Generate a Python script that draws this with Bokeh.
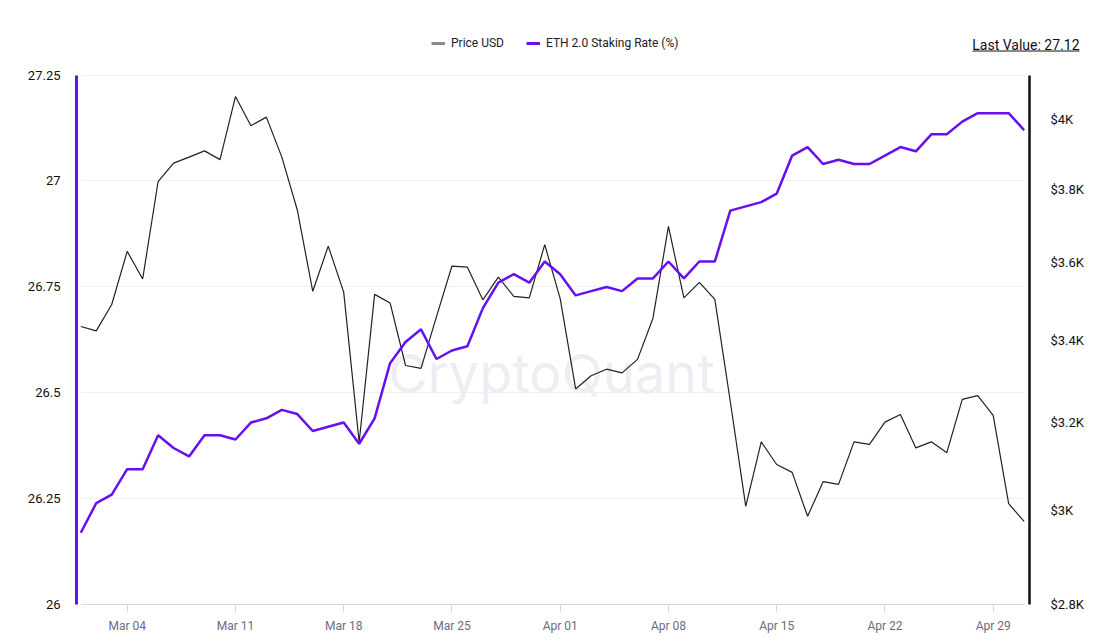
import math
import datetime as dt
from bokeh.plotting import figure
from bokeh.models import (Range1d, LogAxis, LogScale, FixedTicker, CustomJSTickFormatter,
                          NumeralTickFormatter, DatetimeTickFormatter, Legend, LegendItem,
                          Label, BoxAnnotation)
from bokeh.embed import file_html
from bokeh.resources import INLINE

# ---------------- data ----------------
start_date = dt.datetime(2024, 3, 1)
dates = [start_date + dt.timedelta(days=i) for i in range(62)]  # Mar 01 .. May 01

staking_rate = [
    26.17, 26.24, 26.26, 26.32, 26.32, 26.40, 26.37, 26.35, 26.40, 26.40,
    26.39, 26.43, 26.44, 26.46, 26.45, 26.41, 26.42, 26.43, 26.38, 26.44,
    26.57, 26.62, 26.65, 26.58, 26.60, 26.61, 26.70, 26.76, 26.78, 26.76,
    26.81,
    26.78, 26.73, 26.74, 26.75, 26.74, 26.77, 26.77, 26.81, 26.77, 26.81,
    26.81, 26.93, 26.94, 26.95, 26.97, 27.06, 27.08, 27.04, 27.05, 27.04,
    27.04, 27.06, 27.08, 27.07, 27.11, 27.11, 27.14, 27.16, 27.16, 27.16,
    27.12,
]

price_usd = [
    3435, 3424, 3491, 3630, 3557, 3821, 3873, 3890, 3908, 3883,
    4067, 3981, 4006, 3890, 3742, 3525, 3644, 3523, 3155, 3517,
    3495, 3338, 3331, 3460, 3591, 3588, 3503, 3562, 3512, 3508,
    3648,
    3506, 3281, 3313, 3329, 3320, 3353, 3456, 3697, 3508, 3548,
    3504, 3251, 3010, 3156, 3104, 3086, 2988, 3065, 3059, 3156,
    3150, 3202, 3220, 3142, 3156, 3131, 3256, 3265, 3218, 3016,
    2977,
]

rate_ticks = [26, 26.25, 26.5, 26.75, 27, 27.25]
price_ticks = [2800, 3000, 3200, 3400, 3600, 3800, 4000]
date_ticks = [dt.datetime(2024, 3, 4) + dt.timedelta(days=7 * i) for i in range(9)]

PURPLE = "#6610F2"
FONT = "Roboto"

# ---------------- page geometry (canvas pixels) ----------------
W, H = 1103, 641
EPOCH = dt.datetime(1970, 1, 1)
PX_PER_DAY = 866 / 56          # spacing of the weekly ticks
X_FIRST = 80.3                  # canvas x of the first date
Y_BASE = 604.3                  # canvas y of the bottom of the plot area
PX_PER_RATE = 529.8 / 1.25      # left (linear) axis
PX_PER_LN = 1361.5              # right (log) axis


def ms(d):
    return (d - EPOCH).total_seconds() * 1000


def x_at(px):
    return dates[0] + dt.timedelta(days=(px - X_FIRST) / PX_PER_DAY)


def rate_at(py):
    return rate_ticks[0] + (Y_BASE - py) / PX_PER_RATE


def price_at(py):
    return price_ticks[0] * math.exp((Y_BASE - py) / PX_PER_LN)


# ---------------- figure: frame fills the whole canvas ----------------
p = figure(
    width=W, height=H, title=None,
    x_axis_type="datetime",
    x_range=Range1d(x_at(0), x_at(W)),
    y_range=Range1d(rate_at(H), rate_at(0)),
    output_backend="svg", toolbar_location=None,
    min_border_left=0, min_border_right=0, min_border_top=0, min_border_bottom=0,
)
p.outline_line_color = None

p.extra_y_ranges = {"price": Range1d(price_at(H), price_at(0))}
p.extra_y_scales = {"price": LogScale()}

# grid
p.xgrid.visible = False
g = p.ygrid[0]
g.ticker = FixedTicker(ticks=rate_ticks[1:])
g.grid_line_color = "#f0f0f4"
g.grid_line_width = 1
g.cross_bounds = (ms(x_at(81)), ms(x_at(1024)))

# x axis
xa = p.xaxis[0]
xa.fixed_location = rate_ticks[0]
xa.bounds = (ms(x_at(81)), ms(x_at(1024)))
xa.ticker = FixedTicker(ticks=[ms(d) for d in date_ticks])
xa.formatter = DatetimeTickFormatter(days="%b %d", months="%b %d", hours="%b %d")
xa.axis_line_color = "#d9d7e3"
xa.major_tick_line_color = "#d9d7e3"
xa.major_tick_out = 8
xa.major_tick_in = 0
xa.minor_tick_line_color = None
xa.major_label_text_font = FONT
xa.major_label_text_font_size = "12px"
xa.major_label_text_color = "#6c6c80"
xa.major_label_standoff = 6

# left axis (staking rate)
ya = p.yaxis[0]
ya.fixed_location = ms(x_at(76))
ya.bounds = (rate_ticks[0], rate_ticks[-1])
ya.ticker = FixedTicker(ticks=rate_ticks)
ya.formatter = NumeralTickFormatter(format="0.[00]")
ya.axis_line_color = PURPLE
ya.axis_line_width = 3
ya.major_tick_line_color = None
ya.minor_tick_line_color = None
ya.major_label_text_font = FONT
ya.major_label_text_font_size = "13px"
ya.major_label_text_color = "#111111"
ya.major_label_text_align = "left"
ya.major_label_standoff = 10

# right axis (price, log)
ra = LogAxis(y_range_name="price",
             ticker=FixedTicker(ticks=price_ticks),
             formatter=CustomJSTickFormatter(code='return "$" + (tick/1000) + "K";'))
ra.fixed_location = ms(x_at(1029))
ra.bounds = (price_ticks[0], price_at(74.5))
ra.axis_line_color = "#111111"
ra.axis_line_width = 2.5
ra.major_tick_line_color = None
ra.minor_tick_line_color = None
ra.major_label_text_font = FONT
ra.major_label_text_font_size = "13px"
ra.major_label_text_color = "#111111"
ra.major_label_standoff = 15
p.add_layout(ra, "right")

# watermark
wm = Label(x=x_at(551), y=rate_at(373), text="CryptoQuant",
           text_align="center", text_baseline="alphabetic",
           text_font="Inter", text_font_size="54px", text_color="#ededf4",
           level="underlay")
p.add_layout(wm)

# series lines
p.line(dates, price_usd, y_range_name="price", line_color="#222222", line_width=1.2)
p.line(dates, staking_rate, line_color=PURPLE, line_width=2.5)

# legend (swatch-only renderers with a single NaN point)
sw_price = p.line([dates[0]], [float("nan")], line_color="#8c8c8c", line_width=3)
sw_rate = p.line([dates[0]], [float("nan")], line_color=PURPLE, line_width=3)
legend = Legend(items=[LegendItem(label="Price USD", renderers=[sw_price]),
                       LegendItem(label="ETH 2.0 Staking Rate (%)", renderers=[sw_rate])],
                orientation="horizontal", location=(431, H - 50),
                glyph_width=14, glyph_height=14, label_height=14, label_standoff=6, spacing=22,
                padding=0, margin=0,
                label_text_font=FONT, label_text_font_size="12px", label_text_color="#222222",
                border_line_color=None, background_fill_alpha=0)
p.add_layout(legend, "center")

# last value text with underline
last_txt = Label(x=x_at(1079), y=rate_at(44),
                 text=f"Last Value: {staking_rate[-1]}", text_align="right",
                 text_baseline="middle", text_font=FONT, text_font_size="14px",
                 text_color="#111111")
p.add_layout(last_txt)
p.line([x_at(972), x_at(1079)], [rate_at(50.5), rate_at(50.5)],
       line_color="#111111", line_width=1)

open("out.html", "w").write(file_html(p, INLINE))
